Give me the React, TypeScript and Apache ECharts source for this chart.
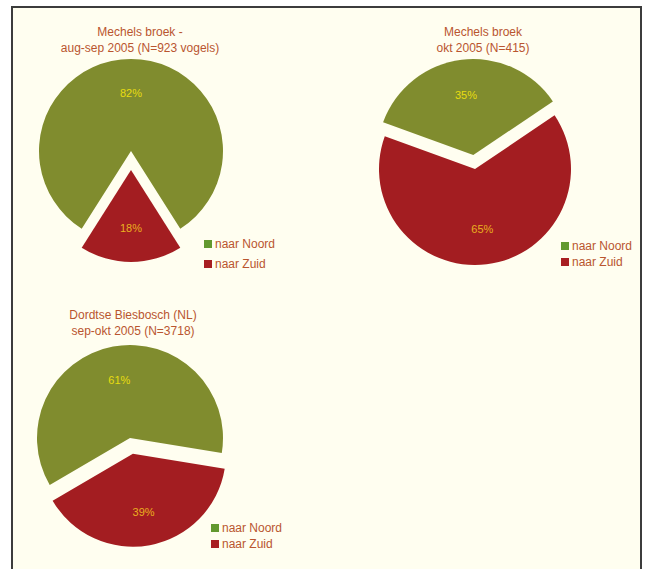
import React, { useEffect, useRef } from 'react';
import * as echarts from 'echarts';

// ---- data ----
const categories = ['naar Noord', 'naar Zuid'];
const chartTitles = [
  'Mechels broek -\naug-sep 2005 (N=923 vogels)',
  'Mechels broek\nokt 2005 (N=415)',
  'Dordtse Biesbosch (NL)\nsep-okt 2005 (N=3718)',
];
const mechelsAugSep = [82, 18];
const mechelsOkt = [35, 65];
const dordtseSepOkt = [61, 39];
const explodedSlice = [1, 0, 1];

// ---- styling / layout ----
const GREEN = '#808c2e';
const RED = '#a31d21';
const LEGEND_GREEN = '#62992f';
const LEGEND_RED = '#a81f22';
const TEXT = '#b9552f';
const LABEL_ON_GREEN = '#e8dc10';
const LABEL_ON_RED = '#eab020';
const FONT = '"Liberation Sans", Arial, sans-serif';

const pies = [
  { values: mechelsAugSep, center: [131, 151], r: 92, startAngle: 237.6, offset: 19, title: [140, 24], legend: [199, 233], gap: 8 },
  { values: mechelsOkt, center: [475, 169], r: 96, startAngle: 160, offset: 14, title: [483, 24], legend: [556, 235], gap: 4 },
  { values: dordtseSepOkt, center: [130, 438], r: 93, startAngle: 210.3, offset: 16, title: [133, 307], legend: [206, 517], gap: 4 },
];

export default function App() {
  const ref = useRef<HTMLDivElement>(null);
  useEffect(() => {
    if (!ref.current) return;
    const chart = echarts.init(ref.current, null, { renderer: 'svg' });
    const colors = [GREEN, RED];
    const labelColors = [LABEL_ON_GREEN, LABEL_ON_RED];
    const series: any[] = [];
    pies.forEach((p, i) => {
      series.push({
        type: 'pie',
        center: p.center,
        radius: p.r,
        startAngle: p.startAngle,
        selectedMode: 'single',
        selectedOffset: p.offset,
        silent: true,
        label: { show: false },
        labelLine: { show: false },
        emphasis: { disabled: true },
        data: categories.map((name, j) => ({
          name,
          value: p.values[j],
          selected: explodedSlice[i] === j,
          itemStyle: { color: colors[j] },
        })),
      });
    });
    pies.forEach((p, i) => {
      series.push({
        type: 'pie',
        center: p.center,
        radius: [p.r * 0.2, p.r],
        startAngle: p.startAngle,
        selectedMode: 'single',
        selectedOffset: p.offset,
        silent: true,
        itemStyle: { color: 'rgba(0,0,0,0)' },
        labelLine: { show: false },
        emphasis: { disabled: true },
        data: categories.map((name, j) => ({
          name,
          value: p.values[j],
          selected: explodedSlice[i] === j,
          label: {
            show: true,
            position: 'inside',
            formatter: '{c}%',
            color: labelColors[j],
            fontSize: 11,
            fontFamily: FONT,
          },
        })),
      });
    });

    chart.setOption({
      animation: false,
      backgroundColor: '#ffffff',
      graphic: [
        {
          type: 'rect',
          z: -10,
          shape: { x: 12, y: 7, width: 629, height: 620 },
          style: { fill: '#fffef0', stroke: '#3c3c3c', lineWidth: 2 },
        },
        ...pies.map((p, i) => ({
          type: 'text',
          x: p.title[0],
          y: p.title[1],
          style: {
            text: chartTitles[i],
            textAlign: 'center',
            fill: TEXT,
            font: `12px ${FONT}`,
            lineHeight: 16,
          },
        })),
      ],
      legend: pies.map((p) => ({
        orient: 'vertical',
        left: p.legend[0],
        top: p.legend[1],
        icon: 'rect',
        itemWidth: 8,
        itemHeight: 8,
        itemGap: p.gap,
        selectedMode: false,
        textStyle: { color: TEXT, fontSize: 12, fontFamily: FONT, padding: [0, 0, 0, -2] },
        data: [
          { name: categories[0], itemStyle: { color: LEGEND_GREEN } },
          { name: categories[1], itemStyle: { color: LEGEND_RED } },
        ],
      })),
      series,
    });
    return () => chart.dispose();
  }, []);
  return <div ref={ref} style={{ position: 'absolute', left: 0, top: 0, width: 650, height: 569 }} />;
}
